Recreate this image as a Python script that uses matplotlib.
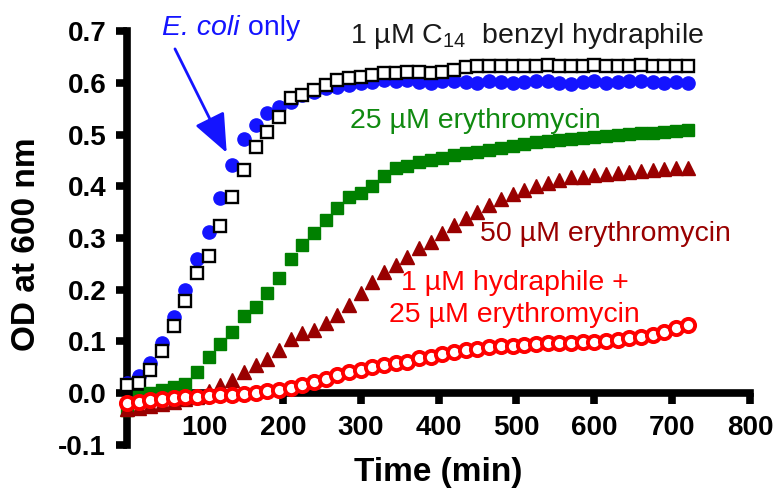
import matplotlib
matplotlib.use('Agg')
import matplotlib.pyplot as plt

# ---------------- data ----------------
time_min = [0, 15, 30, 45, 60, 75, 90, 105, 120, 135,
            150, 165, 180, 195, 210, 225, 240, 255, 270, 285,
            300, 315, 330, 345, 360, 375, 390, 405, 420, 435,
            450, 465, 480, 495, 510, 525, 540, 555, 570, 585,
            600, 615, 630, 645, 660, 675, 690, 705, 720]

ecoli_only = [0.019, 0.033, 0.058, 0.097, 0.147, 0.199, 0.259, 0.312, 0.377, 0.441,
              0.492, 0.519, 0.542, 0.553, 0.563, 0.577, 0.583, 0.590, 0.592, 0.596,
              0.600, 0.602, 0.605, 0.604, 0.606, 0.602, 0.600, 0.603, 0.604, 0.601,
              0.600, 0.603, 0.602, 0.600, 0.601, 0.604, 0.603, 0.600, 0.598, 0.601,
              0.603, 0.600, 0.602, 0.604, 0.603, 0.601, 0.600, 0.601, 0.600]

hydraphile_1uM = [0.015, 0.019, 0.045, 0.081, 0.130, 0.178, 0.232, 0.265, 0.323, 0.379,
                  0.432, 0.476, 0.505, 0.534, 0.571, 0.577, 0.586, 0.596, 0.606, 0.610,
                  0.612, 0.615, 0.620, 0.619, 0.621, 0.621, 0.620, 0.621, 0.625, 0.631,
                  0.632, 0.632, 0.632, 0.633, 0.632, 0.633, 0.634, 0.633, 0.632, 0.633,
                  0.634, 0.633, 0.632, 0.633, 0.634, 0.633, 0.632, 0.633, 0.632]

ery_25uM = [-0.032, -0.008, 0.000, 0.006, 0.012, 0.018, 0.040, 0.070, 0.095, 0.118,
            0.150, 0.166, 0.194, 0.223, 0.259, 0.286, 0.310, 0.335, 0.358, 0.379,
            0.387, 0.400, 0.420, 0.435, 0.440, 0.447, 0.451, 0.455, 0.460, 0.464,
            0.466, 0.470, 0.474, 0.478, 0.482, 0.485, 0.488, 0.490, 0.492, 0.494,
            0.496, 0.498, 0.500, 0.501, 0.503, 0.504, 0.505, 0.507, 0.509]

ery_50uM = [-0.030, -0.028, -0.025, -0.022, -0.018, -0.012, -0.008, 0.004, 0.015, 0.025,
            0.041, 0.054, 0.066, 0.083, 0.104, 0.117, 0.122, 0.135, 0.151, 0.170,
            0.193, 0.215, 0.234, 0.248, 0.263, 0.280, 0.292, 0.310, 0.325, 0.339,
            0.350, 0.364, 0.376, 0.386, 0.392, 0.400, 0.407, 0.413, 0.418, 0.419,
            0.422, 0.424, 0.426, 0.428, 0.429, 0.431, 0.434, 0.436, 0.435]

hydraphile_ery = [-0.020, -0.017, -0.014, -0.011, -0.009, -0.008, -0.008, -0.006, -0.004, -0.003,
                  -0.002, 0.000, 0.004, 0.006, 0.010, 0.015, 0.021, 0.028, 0.035, 0.041,
                  0.045, 0.050, 0.054, 0.058, 0.061, 0.067, 0.070, 0.076, 0.079, 0.083,
                  0.086, 0.089, 0.091, 0.092, 0.093, 0.094, 0.096, 0.097, 0.097, 0.098,
                  0.099, 0.100, 0.103, 0.106, 0.108, 0.113, 0.118, 0.125, 0.132]

x_ticks = [100, 200, 300, 400, 500, 600, 700, 800]
x_tick_labels = ['100', '200', '300', '400', '500', '600', '700', '800']
y_ticks = [-0.1, 0.0, 0.1, 0.2, 0.3, 0.4, 0.5, 0.6, 0.7]
y_tick_labels = ['-0.1', '0.0', '0.1', '0.2', '0.3', '0.4', '0.5', '0.6', '0.7']

# ---------------- style ----------------
plt.rcParams['font.family'] = ['Liberation Sans', 'DejaVu Sans']
plt.rcParams['mathtext.fontset'] = 'custom'
plt.rcParams['mathtext.rm'] = 'Liberation Sans'
plt.rcParams['mathtext.it'] = 'Liberation Sans:italic'

BLUE = '#1414ff'
GREEN = '#008000'
DARKRED = '#990000'
RED = '#ff0000'

fig = plt.figure(figsize=(7.73, 4.9), dpi=100)
ax = fig.add_axes([0.1643, 0.0924, 0.806, 0.8437])

ms = 9.5
ax.plot(time_min, ecoli_only, 'o', color=BLUE, ms=ms, mec=BLUE, clip_on=False, zorder=3)
ax.plot(time_min, hydraphile_1uM, 's', mfc='white', mec='black', mew=1.7, ms=9,
        clip_on=False, zorder=4)
ax.plot(time_min, ery_25uM, 's', color=GREEN, ms=9, clip_on=False, zorder=5)
ax.plot(time_min, ery_50uM, '^', color=DARKRED, ms=10, clip_on=False, zorder=6)
ax.plot(time_min, hydraphile_ery, 'o', mfc='white', mec=RED, mew=2.8, ms=ms,
        clip_on=False, zorder=7)

ax.set_xlim(0, 800)
ax.set_ylim(-0.1, 0.7)

for s in ['top', 'right']:
    ax.spines[s].set_visible(False)
ax.spines['bottom'].set_position(('data', 0))
for s in ['left', 'bottom']:
    ax.spines[s].set_linewidth(5.5)
    ax.spines[s].set_capstyle('projecting')

ax.set_xticks(x_ticks)
ax.set_xticklabels(x_tick_labels, fontsize=20, fontweight='bold')
ax.set_yticks(y_ticks)
ax.set_yticklabels(y_tick_labels, fontsize=20, fontweight='bold')
ax.tick_params(axis='both', direction='out', length=8, width=5.5, colors='black')
ax.tick_params(axis='x', pad=8)
ax.tick_params(axis='y', pad=7)

ax.set_xlabel('Time (min)', fontsize=24, fontweight='bold')
ax.xaxis.set_label_coords(0.5, -0.03)
ax.set_ylabel('OD at 600 nm', fontsize=24, fontweight='bold')
ax.yaxis.set_label_coords(-0.136, 0.4855)

fs = 20.5
t_ecoli = ax.text(45, 0.693, 'E. coli', color=BLUE, fontsize=fs, fontstyle='italic',
                  ha='left', va='baseline')
ax.annotate(' only', xy=(1, 0), xycoords=t_ecoli, color=BLUE, fontsize=fs,
            ha='left', va='bottom')
ax.text(286, 0.677, r'1 µM C$_{\mathregular{14}}$  benzyl hydraphile', color='#1a1a1a',
        fontsize=fs, ha='left', va='baseline')
ax.text(286, 0.513, '25 µM erythromycin', color='#108a10', fontsize=fs,
        ha='left', va='baseline')
ax.text(453, 0.294, '50 µM erythromycin', color=DARKRED, fontsize=fs,
        ha='left', va='baseline')
ax.text(498, 0.199, '1 µM hydraphile +', color=RED, fontsize=fs,
        ha='center', va='baseline')
ax.text(498, 0.137, '25 µM erythromycin', color=RED, fontsize=fs,
        ha='center', va='baseline')

ax.annotate('', xy=(128, 0.465), xytext=(61.6, 0.666),
            arrowprops=dict(arrowstyle='-|>,head_length=1.2,head_width=0.5',
                            mutation_scale=20, color=BLUE, lw=2,
                            shrinkA=0, shrinkB=0))

fig.savefig('out.png', dpi=100)
